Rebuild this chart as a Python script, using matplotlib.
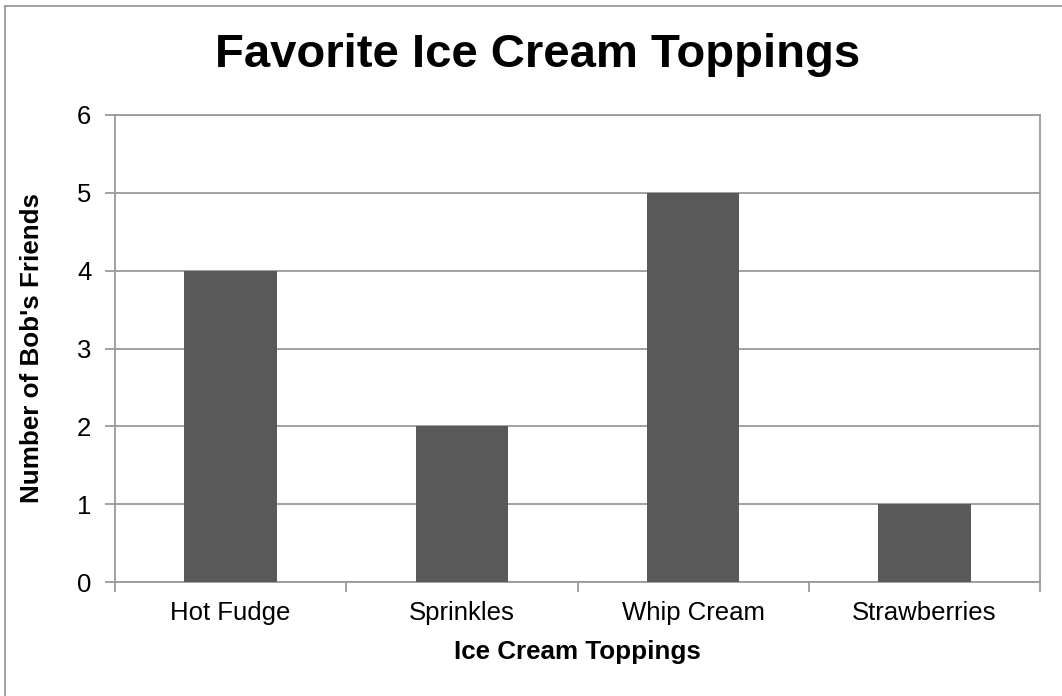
import matplotlib
matplotlib.use("Agg")
import matplotlib.pyplot as plt
from matplotlib.lines import Line2D

plt.rcParams['font.family'] = ['Liberation Sans', 'DejaVu Sans']

# data
toppings = ["Hot Fudge", "Sprinkles", "Whip Cream", "Strawberries"]
friends = [4, 2, 5, 1]
y_ticks = [0, 1, 2, 3, 4, 5, 6]

W, H = 1062, 696
fig = plt.figure(figsize=(W / 100, H / 100), dpi=100)
fig.patch.set_facecolor("white")

# chart border (left + top only are visible)
fig.add_artist(Line2D([5 / W, 5 / W], [0, 1 - 6 / H], transform=fig.transFigure, color="#9a9a9a", lw=1.3))
fig.add_artist(Line2D([5 / W, 1], [1 - 6 / H, 1 - 6 / H], transform=fig.transFigure, color="#9a9a9a", lw=1.3))

left, right, top, bottom = 115, 1040, 115, 582
ax = fig.add_axes([left / W, 1 - bottom / H, (right - left) / W, (bottom - top) / H])

gray = "#9a9a9a"
x = range(len(toppings))
ax.bar(x, friends, width=0.4, color="#595959", zorder=3)

ax.set_xlim(-0.5, len(toppings) - 0.5)
ax.set_ylim(0, 6)
ax.set_yticks(y_ticks)
ax.set_xticks([i - 0.5 for i in range(len(toppings) + 1)])
ax.set_xticklabels([])
ax.set_xticks(list(x), minor=True)
ax.set_xticklabels(toppings, minor=True, fontsize=18.5)
ax.tick_params(axis="x", which="minor", length=0, pad=14)
ax.tick_params(axis="x", which="major", length=7, width=1.3, color=gray, direction="out")
ax.tick_params(axis="y", length=7, width=1.3, color=gray, labelsize=18.5, pad=10)

ax.yaxis.grid(True, color=gray, lw=1.3, zorder=0)
for s in ["left", "bottom", "right", "top"]:
    ax.spines[s].set_color(gray)
    ax.spines[s].set_linewidth(1.3)

fig.text(538 / W, 1 - 55 / H, "Favorite Ice Cream Toppings", ha="center", va="center",
         fontsize=34, fontweight="bold")
fig.text(577 / W, 1 - 652 / H, "Ice Cream Toppings", ha="center", va="center",
         fontsize=18.7, fontweight="bold")
fig.text(32 / W, 1 - 348 / H, "Number of Bob's Friends", ha="center", va="center",
         rotation=90, fontsize=18.7, fontweight="bold")

fig.savefig("out.png", dpi=100)
